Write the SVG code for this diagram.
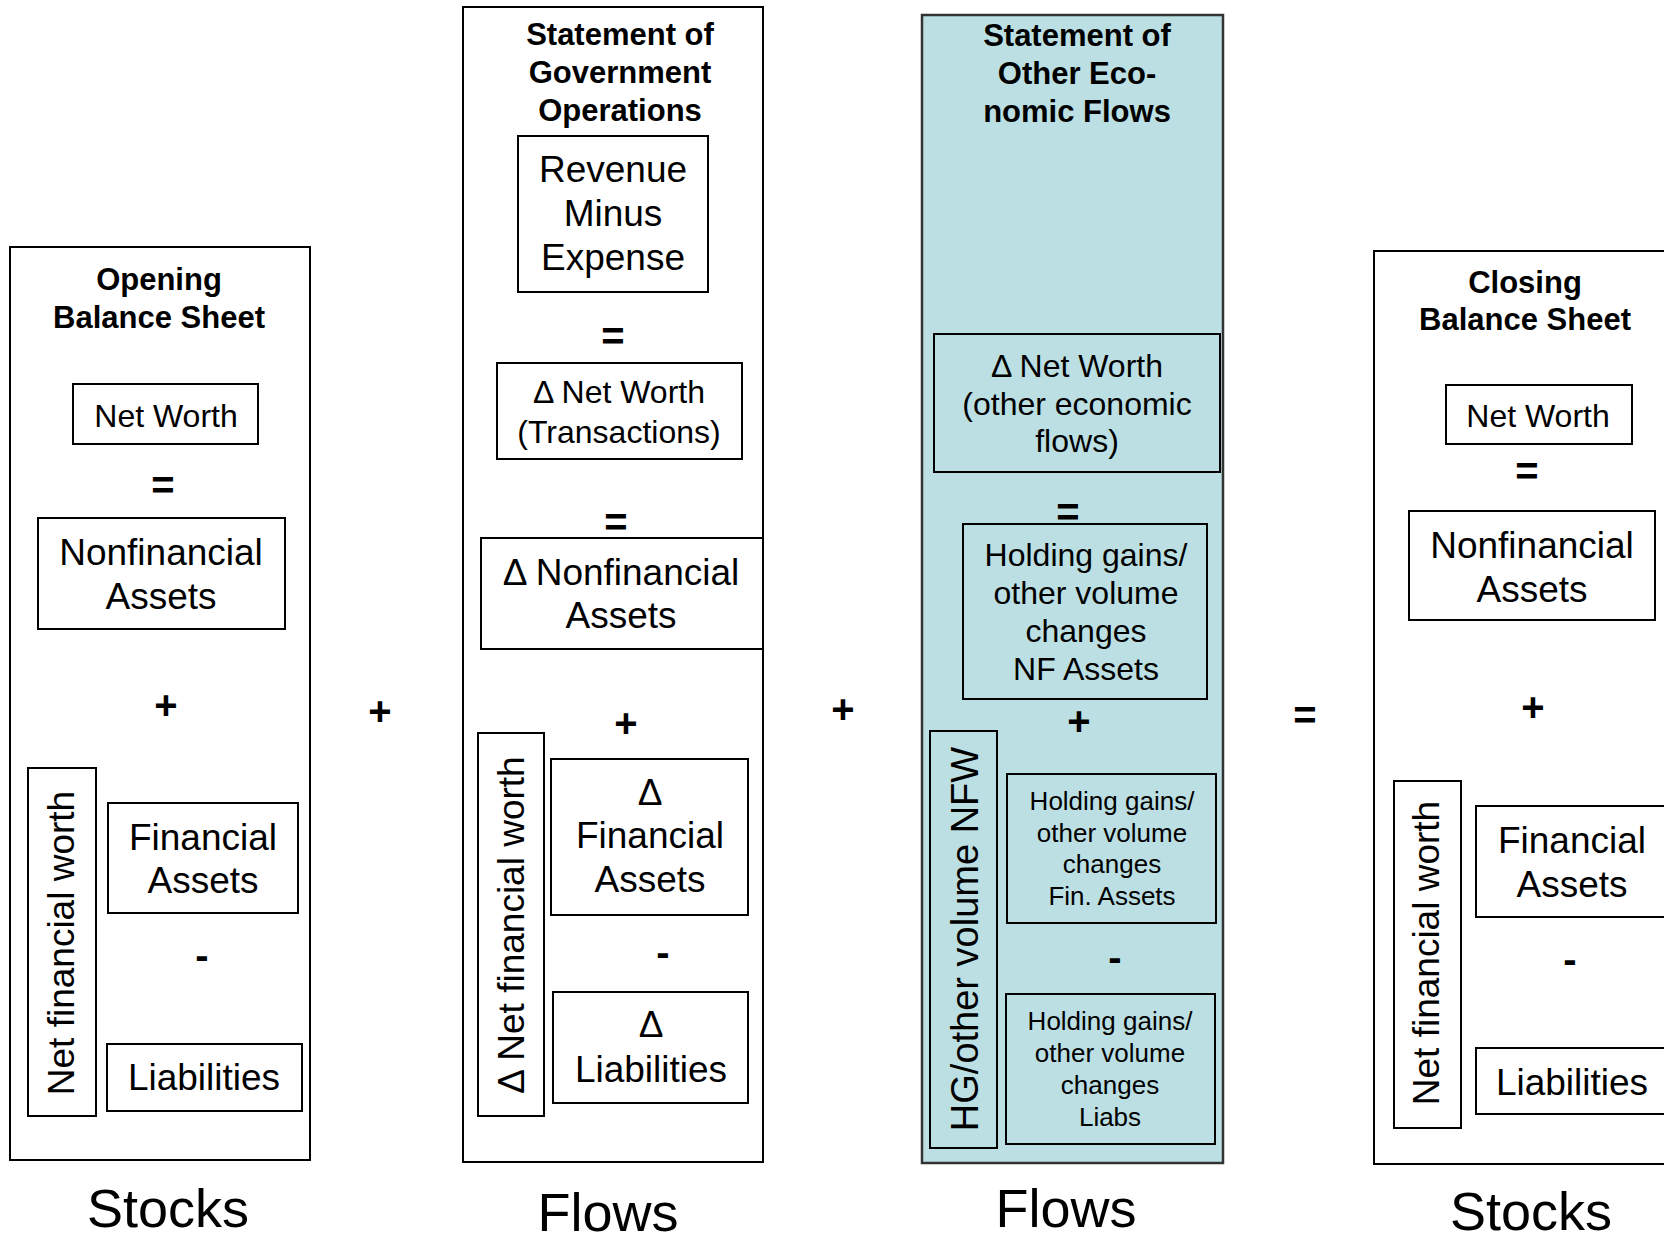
<svg xmlns="http://www.w3.org/2000/svg" width="1664" height="1240" viewBox="0 0 1664 1240">
<style>
text{font-family:"Liberation Sans",Arial,sans-serif;fill:#000;text-anchor:middle}
.t{font-weight:bold;font-size:31px}
.m{font-size:37px}
.s{font-size:32px}
.xs{font-size:26px}
.op{font-size:40px;font-weight:bold}
.big{font-size:54px}
.box{fill:none;stroke:#000;stroke-width:2}
.col{fill:#fff;stroke:#000;stroke-width:2}
.teal{fill:#BBDFE2;stroke:#333;stroke-width:2.5}
</style>
<rect width="1664" height="1240" fill="#fff"/>

<g id="opening">
<rect class="col" x="10" y="247" width="300" height="913"/>
<text class="t" x="159" y="290">Opening</text>
<text class="t" x="159" y="328">Balance Sheet</text>
<g id="o-networth"><rect class="box" x="73" y="384" width="185" height="60"/><text class="s" x="166" y="427">Net Worth</text></g>
<text class="op" x="163" y="499">=</text>
<g id="o-nonfin"><rect class="box" x="38" y="518" width="247" height="111"/><text class="m" x="161" y="565">Nonfinancial</text><text class="m" x="161" y="609">Assets</text></g>
<text class="op" x="166" y="719">+</text>
<g id="o-nfw"><rect class="box" x="28" y="768" width="68" height="348"/><text class="m" transform="translate(74 943) rotate(-90)">Net financial worth</text></g>
<g id="o-fin"><rect class="box" x="108" y="803" width="190" height="110"/><text class="m" x="203" y="850">Financial</text><text class="m" x="203" y="893">Assets</text></g>
<text class="op" x="202" y="969">-</text>
<g id="o-liab"><rect class="box" x="107" y="1044" width="195" height="67"/><text class="m" x="204" y="1090">Liabilities</text></g>
<text class="big" x="168" y="1227">Stocks</text>
</g>

<g id="sgo">
<rect class="col" x="463" y="7" width="300" height="1155"/>
<text class="t" x="620" y="45">Statement of</text>
<text class="t" x="620" y="83">Government</text>
<text class="t" x="620" y="121">Operations</text>
<g id="g-rev"><rect class="box" x="518" y="136" width="190" height="156"/><text class="m" x="613" y="182">Revenue</text><text class="m" x="613" y="226">Minus</text><text class="m" x="613" y="270">Expense</text></g>
<text class="op" x="613" y="350">=</text>
<g id="g-nw"><rect class="box" x="497" y="363" width="245" height="96"/><text class="s" x="619" y="403">Δ Net Worth</text><text class="s" x="619" y="443">(Transactions)</text></g>
<text class="op" x="616" y="536">=</text>
<g id="g-nonfin"><rect class="box" x="481" y="538" width="282" height="111"/><text class="m" x="621" y="585">Δ Nonfinancial</text><text class="m" x="621" y="628">Assets</text></g>
<text class="op" x="626" y="737">+</text>
<g id="g-nfw"><rect class="box" x="478" y="733" width="66" height="383"/><text class="m" transform="translate(524 925) rotate(-90)">Δ Net financial worth</text></g>
<g id="g-fin"><rect class="box" x="551" y="759" width="197" height="156"/><text class="m" x="650" y="805">Δ</text><text class="m" x="650" y="848">Financial</text><text class="m" x="650" y="892">Assets</text></g>
<text class="op" x="663" y="966">-</text>
<g id="g-liab"><rect class="box" x="553" y="992" width="195" height="111"/><text class="m" x="651" y="1037">Δ</text><text class="m" x="651" y="1082">Liabilities</text></g>
<text class="big" x="608" y="1231">Flows</text>
</g>

<g id="soef">
<rect class="teal" x="922" y="15" width="301" height="1148"/>
<text class="t" x="1077" y="46">Statement of</text>
<text class="t" x="1077" y="84">Other Eco-</text>
<text class="t" x="1077" y="122">nomic Flows</text>
<g id="e-nw"><rect class="box" x="934" y="334" width="286" height="138"/><text class="s" x="1077" y="377">Δ Net Worth</text><text class="s" x="1077" y="415">(other economic</text><text class="s" x="1077" y="452">flows)</text></g>
<text class="op" x="1068" y="526">=</text>
<g id="e-nf"><rect class="box" x="963" y="524" width="244" height="175"/><text class="s" x="1086" y="566">Holding gains/</text><text class="s" x="1086" y="604">other volume</text><text class="s" x="1086" y="642">changes</text><text class="s" x="1086" y="680">NF Assets</text></g>
<text class="op" x="1079" y="735">+</text>
<g id="e-nfw"><rect class="box" x="930" y="731" width="67" height="417"/><text class="m" style="font-size:38px" transform="translate(978 939) rotate(-90)">HG/other volume NFW</text></g>
<g id="e-fin"><rect class="box" x="1007" y="774" width="209" height="149"/><text class="xs" x="1112" y="810">Holding gains/</text><text class="xs" x="1112" y="842">other volume</text><text class="xs" x="1112" y="873">changes</text><text class="xs" x="1112" y="905">Fin. Assets</text></g>
<text class="op" x="1115" y="971">-</text>
<g id="e-liab"><rect class="box" x="1006" y="994" width="209" height="150"/><text class="xs" x="1110" y="1030">Holding gains/</text><text class="xs" x="1110" y="1062">other volume</text><text class="xs" x="1110" y="1094">changes</text><text class="xs" x="1110" y="1126">Liabs</text></g>
<text class="big" x="1066" y="1227">Flows</text>
</g>

<g id="closing">
<rect class="col" x="1374" y="251" width="330" height="913"/>
<text class="t" x="1525" y="293">Closing</text>
<text class="t" x="1525" y="330">Balance Sheet</text>
<g id="c-networth"><rect class="box" x="1446" y="385" width="186" height="59"/><text class="s" x="1538" y="427">Net Worth</text></g>
<text class="op" x="1527" y="485">=</text>
<g id="c-nonfin"><rect class="box" x="1409" y="511" width="246" height="109"/><text class="m" x="1532" y="558">Nonfinancial</text><text class="m" x="1532" y="602">Assets</text></g>
<text class="op" x="1533" y="721">+</text>
<g id="c-nfw"><rect class="box" x="1394" y="781" width="67" height="347"/><text class="m" transform="translate(1439 953) rotate(-90)">Net financial worth</text></g>
<g id="c-fin"><rect class="box" x="1476" y="806" width="220" height="111"/><text class="m" x="1572" y="853">Financial</text><text class="m" x="1572" y="897">Assets</text></g>
<text class="op" x="1570" y="973">-</text>
<g id="c-liab"><rect class="box" x="1476" y="1048" width="220" height="66"/><text class="m" x="1572" y="1095">Liabilities</text></g>
<text class="big" x="1531" y="1230">Stocks</text>
</g>

<g id="connectors">
<text class="op" x="380" y="725">+</text>
<text class="op" x="843" y="723">+</text>
<text class="op" x="1305" y="729">=</text>
</g>
</svg>
